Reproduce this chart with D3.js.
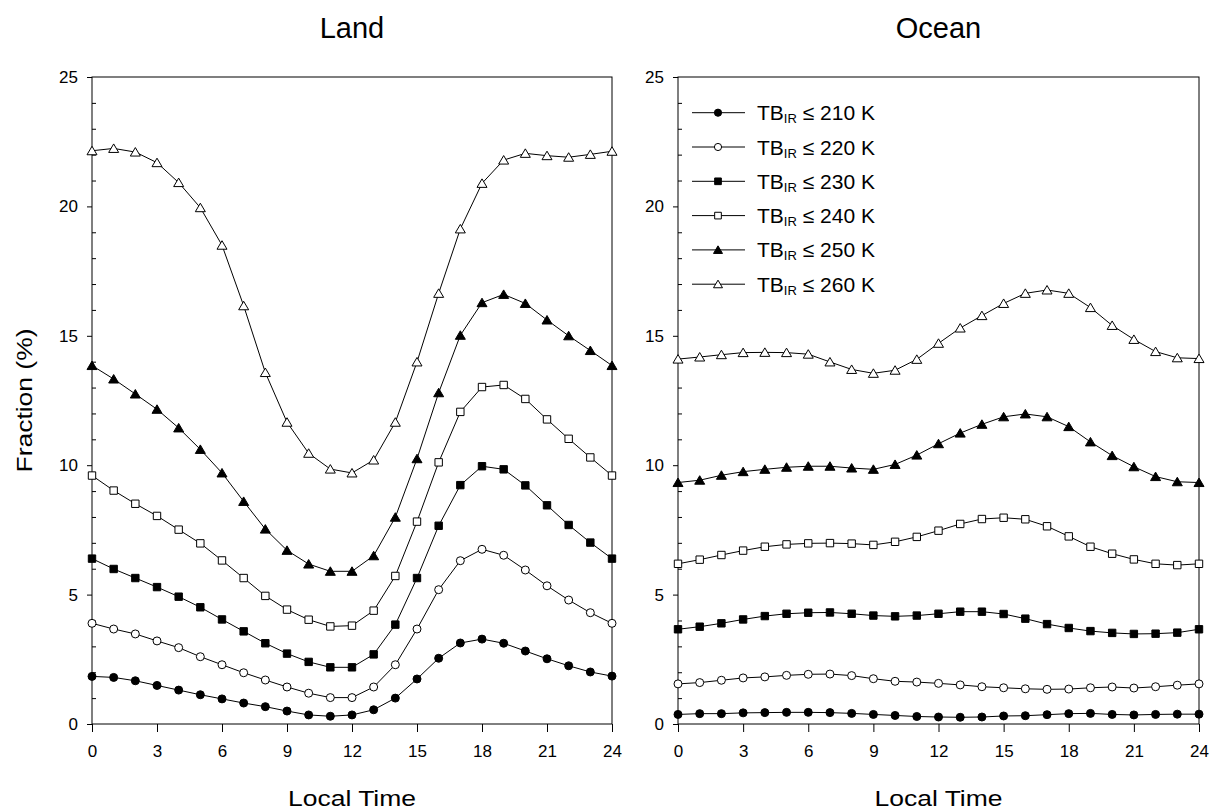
<!DOCTYPE html>
<html>
<head>
<meta charset="utf-8">
<script src="https://cdn.jsdelivr.net/npm/d3@7"></script>
<style>
  body { margin: 0; background: #fff; }
  text { font-family: Arial, "Liberation Sans", sans-serif; fill: #000; }
</style>
</head>
<body>
<svg id="chart" width="1213" height="810"></svg>
<script>
// local hour of day
const hours = [0,1,2,3,4,5,6,7,8,9,10,11,12,13,14,15,16,17,18,19,20,21,22,23,24];
const xTicks = [0,3,6,9,12,15,18,21,24];
const yTicks = [0,5,10,15,20,25];
const thresholds = [210, 220, 230, 240, 250, 260];
const panelTitles = ["Land", "Ocean"];

// fraction (%) over land, one array per TB_IR threshold
const land210 = [1.84,1.80,1.67,1.49,1.31,1.13,0.97,0.81,0.67,0.50,0.35,0.30,0.35,0.55,1.00,1.74,2.54,3.13,3.28,3.12,2.82,2.52,2.25,2.01,1.85];
const land220 = [3.89,3.67,3.48,3.21,2.95,2.60,2.29,1.98,1.70,1.43,1.19,1.02,1.02,1.43,2.29,3.67,5.19,6.31,6.75,6.52,5.95,5.34,4.79,4.30,3.89];
const land230 = [6.39,5.99,5.64,5.29,4.92,4.51,4.04,3.58,3.12,2.72,2.40,2.19,2.19,2.69,3.84,5.64,7.66,9.23,9.96,9.84,9.22,8.45,7.69,7.01,6.39];
const land240 = [9.60,9.02,8.51,8.04,7.51,6.98,6.32,5.64,4.95,4.42,4.03,3.77,3.80,4.38,5.72,7.82,10.11,12.06,13.02,13.10,12.56,11.77,11.02,10.30,9.60];
const land250 = [13.85,13.33,12.75,12.16,11.44,10.61,9.70,8.60,7.53,6.71,6.18,5.90,5.90,6.50,7.99,10.25,12.80,15.02,16.28,16.60,16.25,15.61,15.00,14.43,13.85];
const land260 = [22.15,22.24,22.10,21.69,20.92,19.95,18.50,16.16,13.58,11.66,10.46,9.85,9.70,10.20,11.66,13.99,16.64,19.13,20.89,21.79,22.05,21.96,21.90,22.01,22.13];

// fraction (%) over ocean
const ocean210 = [0.37,0.40,0.40,0.43,0.44,0.45,0.45,0.44,0.41,0.37,0.33,0.29,0.27,0.26,0.27,0.31,0.32,0.36,0.40,0.41,0.37,0.35,0.37,0.38,0.38];
const ocean220 = [1.55,1.60,1.69,1.78,1.82,1.88,1.92,1.93,1.87,1.75,1.65,1.62,1.57,1.51,1.44,1.40,1.36,1.34,1.35,1.40,1.43,1.39,1.44,1.50,1.55];
const ocean230 = [3.66,3.76,3.89,4.04,4.17,4.26,4.30,4.31,4.26,4.19,4.16,4.19,4.26,4.34,4.34,4.25,4.07,3.86,3.71,3.59,3.52,3.48,3.49,3.53,3.66];
const ocean240 = [6.19,6.35,6.53,6.70,6.85,6.94,6.98,6.99,6.97,6.92,7.04,7.23,7.47,7.73,7.92,7.97,7.91,7.64,7.25,6.85,6.58,6.36,6.19,6.14,6.19];
const ocean250 = [9.33,9.42,9.61,9.75,9.84,9.92,9.96,9.96,9.89,9.84,10.03,10.39,10.83,11.24,11.58,11.87,11.98,11.87,11.49,10.90,10.37,9.94,9.56,9.36,9.33];
const ocean260 = [14.10,14.18,14.27,14.35,14.36,14.35,14.29,13.99,13.70,13.55,13.67,14.09,14.71,15.30,15.78,16.25,16.64,16.77,16.64,16.09,15.40,14.86,14.39,14.15,14.12];

const landSeries = [land210, land220, land230, land240, land250, land260];
const oceanSeries = [ocean210, ocean220, ocean230, ocean240, ocean250, ocean260];

// marker style per threshold: shape + fill
const markerShapes = ["circle", "circle", "square", "square", "triangle", "triangle"];
const markerFills = ["#000", "#fff", "#000", "#fff", "#000", "#fff"];

function markerPath(shape, s) {
  s = s || 1;
  if (shape === "circle") {
    const r = 4 * s;
    return `M${-r},0A${r},${r} 0 1,0 ${r},0A${r},${r} 0 1,0 ${-r},0Z`;
  }
  if (shape === "square") {
    const h = 3.7 * s;
    return `M${-h},${-h}H${h}V${h}H${-h}Z`;
  }
  const w = 5 * s, t = 4.5 * s;
  return `M0,${-t}L${w},${t - 0.5}L${-w},${t - 0.5}Z`;
}

const svg = d3.select("#chart");

const panels = [
  {left: 92, right: 612, series: landSeries, title: panelTitles[0], yLabel: true, legend: false},
  {left: 678, right: 1199, series: oceanSeries, title: panelTitles[1], yLabel: false, legend: true}
];
const plotTop = 77, plotBottom = 724;

panels.forEach(p => {
  const x = d3.scaleLinear().domain([0, 24]).range([p.left, p.right]);
  const y = d3.scaleLinear().domain([0, 25]).range([plotBottom, plotTop]);
  const g = svg.append("g");

  // minor y ticks, inward
  g.append("g")
    .attr("transform", `translate(${p.left},0)`)
    .call(d3.axisLeft(y).tickValues(d3.range(0, 26).filter(v => v % 5 !== 0)).tickSize(-4).tickFormat(""))
    .call(a => a.select(".domain").remove());

  // major y ticks
  g.append("g")
    .attr("transform", `translate(${p.left},0)`)
    .call(d3.axisLeft(y).tickValues(yTicks).tickSize(5).tickPadding(9))
    .call(a => a.select(".domain").remove())
    .call(a => a.selectAll("text").attr("font-size", 17).attr("font-family", "Arial, 'Liberation Sans', sans-serif"));

  // x ticks
  g.append("g")
    .attr("transform", `translate(0,${plotBottom})`)
    .call(d3.axisBottom(x).tickValues(xTicks).tickSize(8).tickPadding(13))
    .call(a => a.select(".domain").remove())
    .call(a => a.selectAll("text").attr("font-size", 17).attr("font-family", "Arial, 'Liberation Sans', sans-serif"));

  g.selectAll(".tick line").attr("stroke", "#000");

  // frame
  g.append("rect")
    .attr("x", p.left).attr("y", plotTop)
    .attr("width", p.right - p.left).attr("height", plotBottom - plotTop)
    .attr("fill", "none").attr("stroke", "#000").attr("stroke-width", 1);

  const line = d3.line().x((d, i) => x(hours[i])).y(d => y(d));

  // lines
  g.selectAll("path.series")
    .data(p.series)
    .join("path")
    .attr("class", "series")
    .attr("d", d => line(d))
    .attr("fill", "none")
    .attr("stroke", "#000")
    .attr("stroke-width", 1);

  // markers
  p.series.forEach((s, k) => {
    g.append("g").selectAll("path")
      .data(s)
      .join("path")
      .attr("transform", (d, i) => `translate(${x(hours[i])},${y(d)})`)
      .attr("d", markerPath(markerShapes[k]))
      .attr("fill", markerFills[k])
      .attr("stroke", "#000")
      .attr("stroke-width", 1);
  });

  // panel title
  const cx = (p.left + p.right) / 2;
  svg.append("text")
    .attr("x", cx).attr("y", 38)
    .attr("text-anchor", "middle")
    .attr("font-size", 29)
    .text(p.title);

  // x label
  svg.append("text")
    .attr("x", cx).attr("y", 806)
    .attr("text-anchor", "middle")
    .attr("font-size", 22)
    .attr("textLength", 128)
    .attr("lengthAdjust", "spacingAndGlyphs")
    .text("Local Time");

  if (p.yLabel) {
    svg.append("text")
      .attr("transform", `translate(32,${(plotTop + plotBottom) / 2}) rotate(-90)`)
      .attr("text-anchor", "middle")
      .attr("font-size", 22)
      .attr("textLength", 144)
      .attr("lengthAdjust", "spacingAndGlyphs")
      .text("Fraction (%)");
  }

  if (p.legend) {
    const lg = svg.append("g");
    thresholds.forEach((t, k) => {
      const ry = 112.7 + k * 34.3;
      lg.append("line")
        .attr("x1", 692).attr("x2", 745)
        .attr("y1", ry).attr("y2", ry)
        .attr("stroke", "#000").attr("stroke-width", 1);
      lg.append("path")
        .attr("transform", `translate(718,${ry})`)
        .attr("d", markerPath(markerShapes[k], 0.9))
        .attr("fill", markerFills[k])
        .attr("stroke", "#000");
      const txt = lg.append("text")
        .attr("x", 757).attr("y", ry + 7.5)
        .attr("font-size", 21);
      txt.append("tspan").text("TB");
      txt.append("tspan").attr("font-size", 13).attr("dy", 3).text("IR");
      txt.append("tspan").attr("dy", -3).text(` \u2264 ${t} K`);
    });
  }
});
</script>
</body>
</html>
